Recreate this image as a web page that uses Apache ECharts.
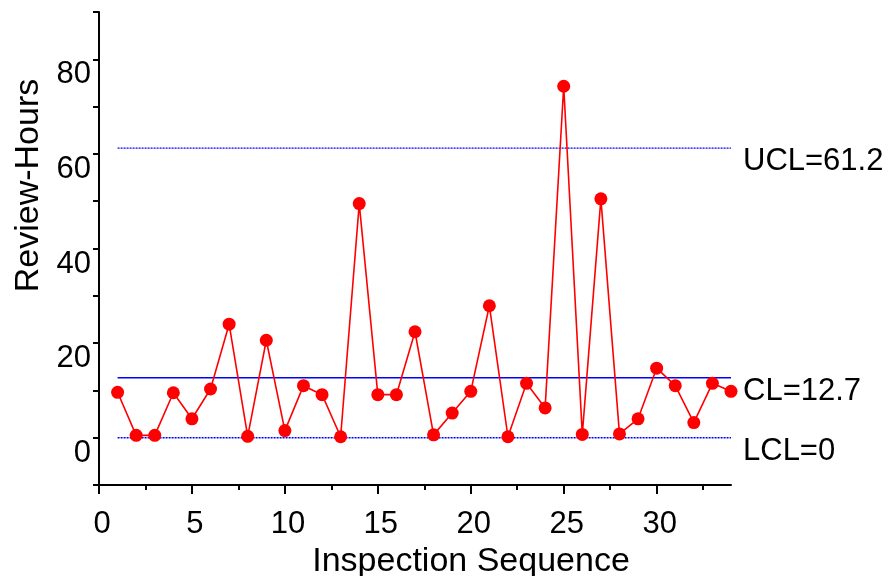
<!DOCTYPE html>
<html>
<head>
<meta charset="utf-8">
<script src="https://cdn.jsdelivr.net/npm/echarts@6/dist/echarts.min.js"></script>
<style>
  html, body { margin: 0; padding: 0; background: #fff; }
  #chart { width: 888px; height: 576px; }
</style>
</head>
<body>
<div id="chart"></div>
<script>
// review-hours per inspection
const SEQ = [1, 2, 3, 4, 5, 6, 7, 8, 9, 10, 11, 12, 13, 14, 15, 16, 17,
  18, 19, 20, 21, 22, 23, 24, 25, 26, 27, 28, 29, 30, 31, 32, 33, 34];
const HOURS = [9.6, 0.5, 0.5, 9.5, 4.0, 10.3, 24.0, 0.3, 20.6, 1.5, 11.0, 9.1, 0.2, 49.5,
  9.1, 9.1, 22.4, 0.6, 5.2, 9.8, 27.9, 0.2, 11.5, 6.3, 74.3, 0.7, 50.5, 0.8, 4.0,
  14.7, 11.0, 3.2, 11.5, 9.8];
const UCL = 61.2;
const CL = 12.7;
const LCL = 0;
const X_LABELS = [0, 5, 10, 15, 20, 25, 30];
const X_MINOR = [2.5, 7.5, 12.5, 17.5, 22.5, 27.5, 32.5];
const Y_LABELS = [0, 20, 40, 60, 80];

const FONT = 'Liberation Sans, Arial, sans-serif';
const INK = '#000';
const BLUE = '#0000ff';
const RED = '#ff0000';

const chart = echarts.init(document.getElementById('chart'));

function limitLine(name, value, type, width) {
  const first = SEQ[0], last = SEQ[SEQ.length - 1];
  return {
    name,
    type: 'line',
    data: [[first, value], [last, value]],
    showSymbol: false,
    silent: true,
    z: 1,
    lineStyle: { color: BLUE, width, type },
    endLabel: {
      show: true,
      formatter: `${name}=${value}`,
      color: INK,
      fontFamily: FONT,
      fontSize: 31,
      distance: 12,
      verticalAlign: 'top',
      offset: [0, -2],
    },
  };
}

const xRange = { type: 'value', min: 0, max: 34, interval: 5, splitLine: { show: false } };

chart.setOption({
  backgroundColor: '#fff',
  animation: false,
  grid: { left: 99, right: 157, top: 12, bottom: 91, outerBoundsMode: 'none' },
  xAxis: [{
    ...xRange,
    name: 'Inspection Sequence',
    nameLocation: 'middle',
    nameGap: 49,
    nameTextStyle: { color: INK, fontFamily: FONT, fontSize: 34, padding: [0, 0, 0, 112] },
    axisLine: { onZero: false, lineStyle: { color: INK, width: 2 } },
    axisTick: { show: true, length: 9, customValues: X_LABELS, lineStyle: { color: INK, width: 2 } },
    axisLabel: {
      customValues: X_LABELS,
      color: INK, fontFamily: FONT, fontSize: 31, margin: 24,
      padding: [0, 0, 0, 6],
    },
  }, {
    // minor ticks only
    ...xRange,
    position: 'bottom',
    axisLine: { show: false, onZero: false },
    axisTick: { show: true, length: 5, customValues: X_MINOR, lineStyle: { color: INK, width: 2 } },
    axisLabel: { show: false },
  }],
  yAxis: {
    type: 'value',
    min: -10, max: 90, interval: 10,
    name: 'Review-Hours',
    nameLocation: 'middle',
    nameGap: 50,
    nameTextStyle: { color: INK, fontFamily: FONT, fontSize: 34, padding: [0, 0, 0, 126] },
    axisLine: { show: true, onZero: false, lineStyle: { color: INK, width: 2 } },
    axisTick: { show: true, length: 6, lineStyle: { color: INK, width: 2 } },
    axisLabel: {
      customValues: Y_LABELS,
      color: INK, fontFamily: FONT, fontSize: 31, margin: 8,
      verticalAlign: 'top',
    },
    splitLine: { show: false },
  },
  series: [
    limitLine('UCL', UCL, [2, 1], 1.3),
    limitLine('CL', CL, 'solid', 1.5),
    limitLine('LCL', LCL, [2, 1], 1.5),
    {
      name: 'hours',
      type: 'line',
      data: SEQ.map((s, i) => [s, HOURS[i]]),
      symbol: 'circle',
      symbolSize: 13,
      z: 3,
      lineStyle: { color: RED, width: 1.6 },
      itemStyle: { color: RED },
    },
  ],
});
</script>
</body>
</html>
